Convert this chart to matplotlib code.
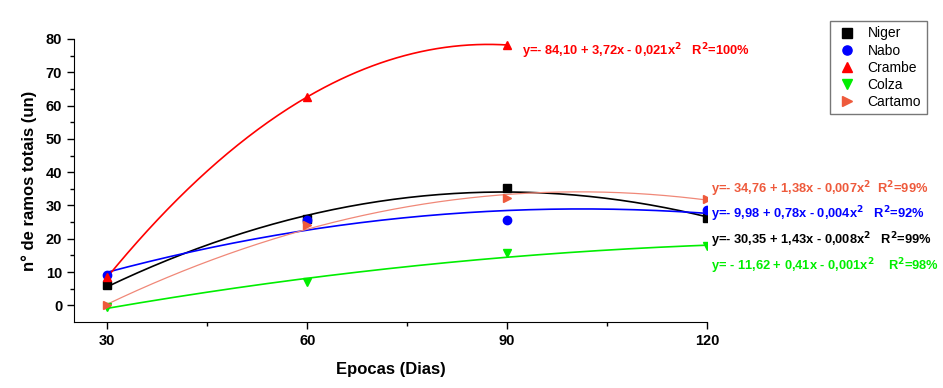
import matplotlib
matplotlib.use("Agg")
import matplotlib.pyplot as plt
import numpy as np

plt.rcParams['font.family'] = ['Liberation Sans', 'DejaVu Sans']
plt.rcParams['font.weight'] = 'bold'

# epocas (dias)
dias = [30, 60, 90, 120]

# valores
niger = [6.0, 25.9, 35.2, 26.2]
nabo = [9.0, 25.5, 25.6, 28.6]
crambe = [8.5, 62.6, 78.2]
colza = [-0.5, 7.0, 15.6, 17.7]
cartamo = [0.0, 24.0, 32.2, 32.0]

series = ["Niger", "Nabo", "Crambe", "Colza", "Cartamo"]
cores = ["#000000", "#0000ff", "#ff0000", "#00ee00", "#ee5a3c"]
cores_linha = ["#000000", "#0000ff", "#ff0000", "#00ee00", "#f08878"]
marcadores = ["s", "o", "^", "v", ">"]
valores = [niger, nabo, crambe, colza, cartamo]

equacoes = [
    r"y=- 30,35 + 1,43x - 0,008x$^{\mathbf{2}}$   R$^{\mathbf{2}}$=99%",
    r"y=- 9,98 + 0,78x - 0,004x$^{\mathbf{2}}$   R$^{\mathbf{2}}$=92%",
    r"y=- 84,10 + 3,72x - 0,021x$^{\mathbf{2}}$   R$^{\mathbf{2}}$=100%",
    r"y= - 11,62 + 0,41x - 0,001x$^{\mathbf{2}}$    R$^{\mathbf{2}}$=98%",
    r"y=- 34,76 + 1,38x - 0,007x$^{\mathbf{2}}$  R$^{\mathbf{2}}$=99%",
]
pos_eq = [(120.6, 19.5), (120.6, 27.4), (92.3, 76.4), (120.6, 11.7), (120.6, 35.0)]

fig = plt.figure(figsize=(9.43, 3.88), dpi=100)
ax = fig.add_axes([0.0785, 0.170, 0.6712, 0.7295])

handles = []
for nome, y, c, cl, m, eq, p in zip(series, valores, cores, cores_linha, marcadores, equacoes, pos_eq):
    x = dias[:len(y)]
    coef = np.polyfit(x, y, 2)
    xs = np.linspace(x[0], x[-1], 200)
    lw = 0.9 if nome == "Cartamo" else 1.2
    ax.plot(xs, np.polyval(coef, xs), color=cl, lw=lw, zorder=2)
    h, = ax.plot(x, y, linestyle="none", marker=m, color=c, markersize=6, zorder=3, label=nome)
    handles.append(h)
    ax.text(p[0], p[1], eq, color=c, fontsize=9.3, fontweight="bold", va="center", ha="left",
            clip_on=False)

ax.set_xlim(25, 120)
ax.set_ylim(-5, 80)
ax.set_xticks([30, 60, 90, 120])
ax.set_xticks([45, 75, 105], minor=True)
ax.set_yticks(np.arange(0, 81, 10))
ax.set_yticks(np.arange(5, 80, 10), minor=True)
ax.tick_params(labelsize=10.5, length=5, width=1)
ax.tick_params(which="minor", length=3, width=1)
for lab in ax.get_xticklabels() + ax.get_yticklabels():
    lab.set_fontweight("bold")
ax.spines["top"].set_visible(False)
ax.spines["right"].set_visible(False)
ax.set_xlabel("Epocas (Dias)", fontsize=12, fontweight="bold", labelpad=10)
ax.set_ylabel("n° de ramos totais (un)", fontsize=12, fontweight="bold", labelpad=6)

leg = fig.legend(handles=handles, loc="upper left", bbox_to_anchor=(0.873, 0.964),
                 frameon=True, fancybox=False, edgecolor="#555555", fontsize=10,
                 handletextpad=0.7, borderpad=0.4, labelspacing=0.22, handlelength=1.6,
                 markerscale=1.1)
leg.get_frame().set_linewidth(1.0)
for t in leg.get_texts():
    t.set_fontweight("normal")

fig.savefig("out.png", dpi=100)
